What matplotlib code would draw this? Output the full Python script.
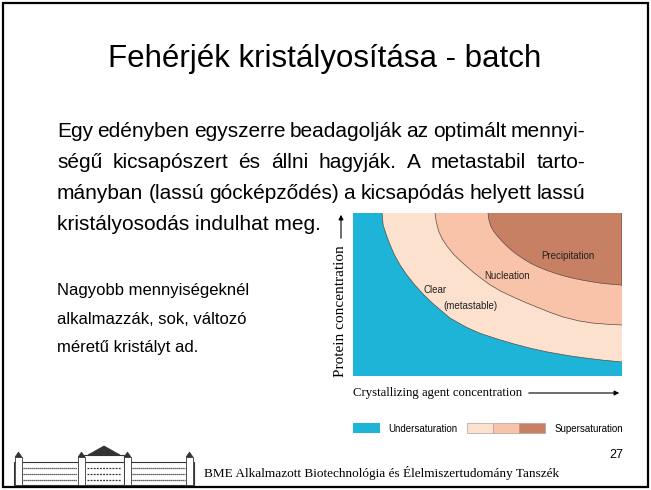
import matplotlib.pyplot as plt
import numpy as np
from matplotlib.patches import Rectangle, Polygon

plt.rcParams['font.family'] = ['Liberation Sans', 'DejaVu Sans']

# phase diagram boundaries (fraction of plot width / height)
clear_x = [0.108, 0.112, 0.125, 0.138, 0.155, 0.175, 0.200, 0.230, 0.265, 0.300, 0.361,
           0.420, 0.472, 0.540, 0.600, 0.660, 0.721, 0.800, 0.860, 0.930, 1.0]
clear_y = [1.0, 0.926, 0.860, 0.804, 0.740, 0.681, 0.620, 0.558, 0.495, 0.440, 0.355,
           0.300, 0.262, 0.225, 0.196, 0.170, 0.148, 0.125, 0.111, 0.097, 0.086]
nucl_x = [0.305, 0.309, 0.318, 0.332, 0.349, 0.372, 0.400, 0.446, 0.480, 0.509, 0.550,
          0.595, 0.640, 0.680, 0.730, 0.781, 0.840, 0.890, 0.950, 1.0]
nucl_y = [1.0, 0.950, 0.890, 0.840, 0.798, 0.750, 0.705, 0.638, 0.595, 0.560, 0.520,
          0.485, 0.452, 0.425, 0.392, 0.362, 0.338, 0.325, 0.317, 0.313]
prec_x = [0.502, 0.505, 0.512, 0.522, 0.535, 0.552, 0.570, 0.590, 0.610, 0.635, 0.660,
          0.690, 0.721, 0.750, 0.780, 0.810, 0.844, 0.880, 0.920, 0.960, 1.0]
prec_y = [1.0, 0.960, 0.920, 0.890, 0.862, 0.830, 0.800, 0.770, 0.745, 0.717, 0.692,
          0.668, 0.648, 0.631, 0.616, 0.603, 0.591, 0.580, 0.570, 0.563, 0.558]

region_labels = ['Clear', '(metastable)', 'Nucleation', 'Precipitation']
region_pos = [(0.305, 0.528), (0.435, 0.43), (0.572, 0.613), (0.80, 0.736)]

title = 'Fehérjék kristályosítása - batch'
para1 = ['Egy edényben egyszerre beadagolják az optimált mennyi-',
         'ségű kicsapószert és állni hagyják. A metastabil tarto-',
         'mányban (lassú gócképződés) a kicsapódás helyett lassú',
         'kristályosodás indulhat meg.']
para2 = ['Nagyobb mennyiségeknél', 'alkalmazzák, sok, változó', 'méretű kristályt ad.']
footer = 'BME Alkalmazott Biotechnológia és Élelmiszertudomány Tanszék'

c_blue = '#1db4d8'
c_light = '#fde1cf'
c_mid = '#f8c3a8'
c_dark = '#c88064'

fig = plt.figure(figsize=(6.51, 4.90), dpi=100)
page = fig.add_axes([0, 0, 1, 1])
page.set_xlim(0, 651)
page.set_ylim(490, 0)
page.axis('off')
r = fig.canvas.get_renderer()

# slide frame
page.add_patch(Rectangle((3, 3), 645, 484, fill=False, lw=1.6, ec='black'))

page.text(325, 67, title, fontsize=22.5, ha='center', va='baseline')


def justify(line, y, x0, x1, size):
    words = line.split()
    arts = [page.text(0, y, w, fontsize=size, va='baseline') for w in words]
    widths = [a.get_window_extent(r).width for a in arts]
    gap = (x1 - x0 - sum(widths)) / (len(words) - 1)
    x = x0
    for a, w in zip(arts, widths):
        a.set_x(x)
        x += w + gap


for i, line in enumerate(para1):
    yb = 137 + i * 31
    if i < len(para1) - 1:
        justify(line, yb, 57, 585, 15)
    else:
        page.text(57, yb, line, fontsize=15, va='baseline')

for i, line in enumerate(para2):
    page.text(57, 295 + i * 28.5, line, fontsize=12, va='baseline')

# ---- phase diagram ----
ax = fig.add_axes([353 / 651, 114 / 490, 269 / 651, 163 / 490])
ax.set_xlim(0, 1)
ax.set_ylim(0, 1)
ax.axis('off')
ax.fill([0, 1, 1, 0], [0, 0, 1, 1], color=c_light, lw=0)
ax.fill(np.r_[0, 0, clear_x, 1], np.r_[0, 1, clear_y, 0], color=c_blue, lw=0)
ax.fill(np.r_[nucl_x, 1], np.r_[nucl_y, 1], color=c_mid, lw=0)
ax.fill(np.r_[prec_x, 1], np.r_[prec_y, 1], color=c_dark, lw=0)
for xs, ys in [(clear_x, clear_y), (nucl_x, nucl_y), (prec_x, prec_y)]:
    ax.plot(xs, ys, color='#5a4a44', lw=0.5)
ax.plot([1, 1], [prec_y[-1], 1], color='#9a5a44', lw=1.2)
for lab, (px, py) in zip(region_labels, region_pos):
    ax.text(px, py, lab, fontsize=7, ha='center', va='center', color='#222222')

serif = ['Liberation Serif', 'DejaVu Serif']
page.text(340, 311, 'Protein concentration', family=serif, fontsize=11,
          rotation=90, ha='center', va='center')
page.annotate('', xy=(341, 212), xytext=(341, 241),
              arrowprops=dict(arrowstyle='-|>', lw=0.8, color='black', mutation_scale=7))
page.text(353, 393, 'Crystallizing agent concentration', family=serif, fontsize=9.2,
          ha='left', va='center')
page.annotate('', xy=(622, 393), xytext=(526, 393),
              arrowprops=dict(arrowstyle='-|>', lw=0.8, color='black', mutation_scale=7))

# legend
page.add_patch(Rectangle((353, 423), 27, 10, color=c_blue, lw=0))
page.text(388, 428.5, 'Undersaturation', fontsize=7, va='center')
for k, c in enumerate([c_light, c_mid, c_dark]):
    page.add_patch(Rectangle((467 + 26 * k, 423), 26, 10, fc=c, ec='#b0a09a', lw=0.5))
page.text(555, 428.5, 'Supersaturation', fontsize=7, va='center')

# footer
page.text(616, 455, '27', fontsize=9, ha='center', va='center')
page.text(204, 477, footer, family=serif, fontsize=9.5, va='baseline')

# university building logo (rough sketch)
lc = '#333333'
page.add_patch(Rectangle((14, 462), 180, 23, fill=False, ec=lc, lw=0.8))
page.add_patch(Rectangle((84, 455), 40, 30, fill=False, ec=lc, lw=0.8))
page.add_patch(Polygon([(88, 455), (104, 446), (120, 455)], closed=True, fc=lc, ec=lc, lw=0.6))
for tx in [15, 78, 124, 186]:
    page.add_patch(Rectangle((tx, 457), 7, 28, fc='white', ec=lc, lw=0.6))
    page.add_patch(Polygon([(tx, 457), (tx + 3.5, 452), (tx + 7, 457)], fc=lc, ec=lc, lw=0.4))
for wy in [468, 474, 480]:
    page.plot([23, 77], [wy, wy], color=lc, lw=0.9, ls=(0, (1, 0.6)))
    page.plot([132, 185], [wy, wy], color=lc, lw=0.9, ls=(0, (1, 0.6)))
    page.plot([87, 121], [wy, wy], color=lc, lw=0.9, ls=(0, (1.5, 1)))

fig.savefig('out.png', dpi=100)
